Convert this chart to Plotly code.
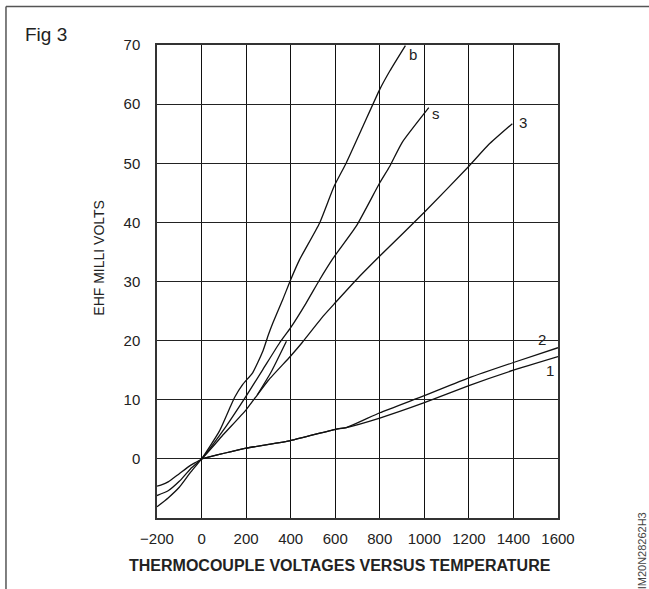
"""Thermocouple voltage vs temperature chart (Fig 3)."""

import plotly.graph_objects as go

# temperature (x) and EMF millivolts (y)
temp_b = [-200, -150, -100, -50, 0, 80, 130, 150, 185, 230, 275, 300, 320, 365, 400,
          440, 530, 595, 650, 725, 800, 845, 915]
volts_b = [-8.1, -6.6, -4.8, -2.3, 0, 4.7, 8.9, 10.5, 12.6, 14.6, 18.2, 21.0, 23.0,
           27.0, 30.3, 33.7, 39.9, 46.1, 50.1, 56.3, 62.5, 65.6, 69.9]

temp_s = [-200, -150, -100, -50, 0, 110, 200, 275, 350, 400, 470, 530, 590, 695, 800,
          845, 900, 1020]
volts_s = [-6.2, -5.4, -3.8, -1.7, 0, 5.5, 10.6, 15.1, 19.6, 22.2, 26.4, 30.3, 33.9,
           39.4, 46.7, 49.5, 53.5, 59.4]

temp_3 = [-200, -180, -150, -100, -50, 0, 100, 200, 250, 300, 400, 450, 545, 600, 695,
          800, 1000, 1200, 1290, 1395]
volts_3 = [-4.6, -4.4, -3.9, -2.5, -1.1, 0, 4.2, 8.3, 10.8, 13.3, 17.4, 19.6, 24.1,
           26.4, 30.3, 34.3, 41.7, 49.5, 53.2, 56.7]

temp_stub = [250, 311, 381]
volts_stub = [10.8, 14.6, 19.9]

temp_2 = [0, 200, 400, 600, 650, 800, 1000, 1200, 1400, 1600]
volts_2 = [0, 1.8, 3.1, 5.0, 5.3, 7.8, 10.7, 13.7, 16.3, 18.8]

temp_1 = [0, 200, 400, 600, 650, 800, 1000, 1200, 1400, 1600]
volts_1 = [0, 1.8, 3.1, 5.0, 5.3, 6.9, 9.5, 12.4, 15.0, 17.3]

curve_names = ["b", "s", "3", "2", "1"]
label_x = [950, 1053, 1444, 1530, 1566]
label_y = [68.4, 58.4, 56.9, 20.2, 15.0]

x_ticks = list(range(-200, 1601, 200))
y_ticks = list(range(0, 71, 10))

FONT = "Liberation Sans, Arial, sans-serif"

fig = go.Figure()
curves = [(temp_b, volts_b), (temp_s, volts_s), (temp_3, volts_3),
          (temp_stub, volts_stub), (temp_2, volts_2), (temp_1, volts_1)]
for xs, ys in curves:
    fig.add_trace(go.Scatter(
        x=xs, y=ys, mode="lines", showlegend=False, hoverinfo="skip",
        line=dict(color="#111", width=1.3, shape="spline", smoothing=0.5),
    ))

for name, lx, ly in zip(curve_names, label_x, label_y):
    fig.add_annotation(x=lx, y=ly, text=name, showarrow=False,
                       font=dict(family=FONT, size=15, color="#222"))

# figure number, axis titles and side code
fig.add_annotation(xref="paper", yref="paper", x=-0.333, y=1.022, text="Fig 3",
                   showarrow=False, xanchor="left", yanchor="middle",
                   font=dict(family=FONT, size=19, color="#222"))
fig.add_annotation(xref="paper", yref="paper", x=-0.145, y=0.55, xanchor="center",
                   text="EHF MILLI VOLTS", textangle=-90, showarrow=False,
                   font=dict(family=FONT, size=14, color="#222"))
fig.add_annotation(xref="paper", yref="paper", x=0.456, y=-0.1, xanchor="center",
                   yanchor="middle",
                   text="<b>THERMOCOUPLE VOLTAGES VERSUS TEMPERATURE</b>",
                   showarrow=False, font=dict(family=FONT, size=16, color="#222"))
fig.add_annotation(xref="paper", yref="paper", x=1.21, y=-0.07, xanchor="center",
                   yanchor="middle",
                   text="IM20N28262H3", textangle=-90, showarrow=False,
                   font=dict(family=FONT, size=11, color="#444"))

# outer frame (top and left edges)
fig.add_shape(type="line", xref="paper", yref="paper", x0=-0.3766, x1=1.3,
              y0=1.0814, y1=1.0814, line=dict(color="#555", width=1.5))
fig.add_shape(type="line", xref="paper", yref="paper", x0=-0.3766, x1=-0.3766,
              y0=1.0814, y1=-0.2, line=dict(color="#555", width=1.5))

fig.update_xaxes(
    range=[-200, 1600], tickvals=x_ticks, showgrid=True, gridcolor="#111", gridwidth=1,
    zeroline=False, showline=True, mirror=True, linecolor="#333", linewidth=1.5,
    ticks="", ticklabelstandoff=6, tickfont=dict(family=FONT, size=15, color="#222"),
)
fig.update_yaxes(
    range=[-10, 70], tickvals=y_ticks, showgrid=True, gridcolor="#222", gridwidth=1,
    zeroline=False, showline=True, mirror=True, linecolor="#333", linewidth=1.5,
    ticks="", ticklabelstandoff=12, tickfont=dict(family=FONT, size=15, color="#222"),
)

fig.update_layout(
    width=649, height=589,
    margin=dict(l=157, r=91, t=45, b=71),
    paper_bgcolor="white", plot_bgcolor="white",
    showlegend=False,
)

# drop the page's default body margin so the figure sits at the window's corner
fig.write_html("out.html", config={"displayModeBar": False},
               post_script="document.body.style.margin='0';")
